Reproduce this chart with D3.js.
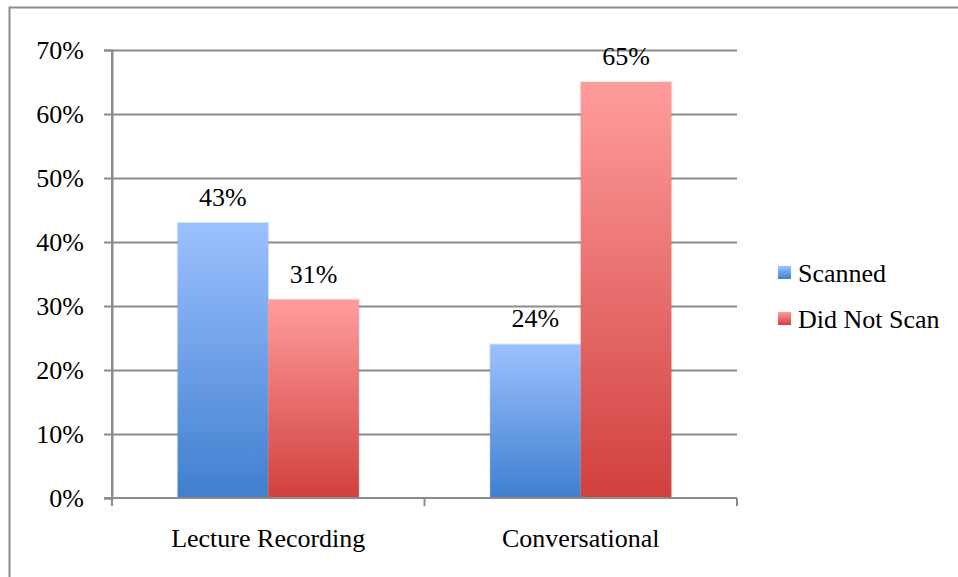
<!DOCTYPE html>
<html>
<head>
<meta charset="utf-8">
<script src="https://cdn.jsdelivr.net/npm/d3@7"></script>
</head>
<body style="margin:0">
<script>
const width = 958;
const height = 577;
const margin = { top: 50, bottom: 79, left: 112, right: 221 }
const font = "Liberation Serif";
const fontSize = 26;

const categories = ["Lecture Recording", "Conversational"];
const seriesNames = ["Scanned", "Did Not Scan"];
const scanned = [0.43, 0.24];
const didNotScan = [0.31, 0.65];
const yTicks = [0, 0.1, 0.2, 0.3, 0.4, 0.5, 0.6, 0.7];

const seriesValues = [scanned, didNotScan];
const colors = [
  { top: "#9dc1ff", bottom: "#3f7fcf" },
  { top: "#ff9d9c", bottom: "#d0403e" }
];

const svg = d3.select("body")
    .append("svg")
    .attr("width", width)
    .attr("height", height);

// outer chart border (runs off the right and bottom edges)
svg.append("rect")
    .attr("x", 9.5).attr("y", 7.5)
    .attr("width", 960).attr("height", 580)
    .attr("fill", "none")
    .attr("stroke", "#8c8c8c")
    .attr("stroke-width", 2);

const defs = svg.append("defs");
colors.forEach((c, i) => {
  const g = defs.append("linearGradient")
      .attr("id", "grad" + i)
      .attr("x1", 0).attr("y1", 0).attr("x2", 0).attr("y2", 1);
  g.append("stop").attr("offset", "0%").attr("stop-color", c.top);
  g.append("stop").attr("offset", "100%").attr("stop-color", c.bottom);
});

const x0 = d3.scaleBand()
    .domain(categories)
    .range([margin.left, width - margin.right])
    .paddingInner(0.42)
    .paddingOuter(0.21);

const x1 = d3.scaleBand()
    .domain(seriesNames)
    .range([0, x0.bandwidth()]);

const y = d3.scaleLinear()
    .domain([0, 0.7])
    .range([height - margin.bottom, margin.top]);

// gridlines
svg.append("g")
    .selectAll("line")
    .data(yTicks.slice(1))
    .join("line")
    .attr("x1", margin.left)
    .attr("x2", width - margin.right)
    .attr("y1", d => Math.round(y(d)) + 0.5)
    .attr("y2", d => Math.round(y(d)) + 0.5)
    .attr("stroke", "#8c8c8c")
    .attr("stroke-width", 2);

// y axis
const yAxis = svg.append("g")
    .attr("transform", `translate(${margin.left},0)`)
    .call(d3.axisLeft(y).tickValues(yTicks).tickFormat(d3.format(".0%")).tickSize(8).tickPadding(20));
yAxis.attr("font-family", null).attr("font-size", null);
yAxis.selectAll("path, line").attr("stroke", "#8c8c8c").attr("stroke-width", 2);
yAxis.selectAll("text")
    .style("font-family", font)
    .attr("font-size", fontSize)
    .attr("fill", "#000")
    .attr("dy", "0.34em");

// bars
const groups = svg.append("g")
    .selectAll("g")
    .data(categories)
    .join("g")
    .attr("transform", d => `translate(${x0(d)},0)`);

const barData = (d, i) => seriesNames.map((s, j) => ({ s, j, v: seriesValues[j][i] }));

// faint shadow edge around each bar
groups.selectAll("rect.shade")
    .data(barData)
    .join("rect")
    .attr("class", "shade")
    .attr("x", d => x1(d.s) - 1)
    .attr("y", d => y(d.v) - 1)
    .attr("width", x1.bandwidth() + 2)
    .attr("height", d => y(0) - y(d.v) + 1)
    .attr("fill", "#000")
    .attr("fill-opacity", 0.08);

groups.selectAll("rect.bar")
    .data(barData)
    .join("rect")
    .attr("class", "bar")
    .attr("x", d => x1(d.s))
    .attr("y", d => y(d.v))
    .attr("width", x1.bandwidth())
    .attr("height", d => y(0) - y(d.v))
    .attr("fill", d => `url(#grad${d.j})`);

groups.selectAll("text")
    .data(barData)
    .join("text")
    .attr("x", d => x1(d.s) + x1.bandwidth() / 2)
    .attr("y", d => y(d.v) - 17)
    .attr("text-anchor", "middle")
    .style("font-family", font)
    .attr("font-size", fontSize)
    .text(d => d3.format(".0%")(d.v));

// x axis
const xAxis = svg.append("g")
    .attr("transform", `translate(0,${height - margin.bottom})`);
xAxis.append("line")
    .attr("x1", margin.left - 8).attr("x2", width - margin.right)
    .attr("stroke", "#8c8c8c").attr("stroke-width", 2);
const bounds = [margin.left, (margin.left + width - margin.right) / 2, width - margin.right];
xAxis.selectAll(".tick")
    .data(bounds)
    .join("line")
    .attr("x1", d => d).attr("x2", d => d)
    .attr("y1", 0).attr("y2", 8)
    .attr("stroke", "#8c8c8c").attr("stroke-width", 2);
xAxis.selectAll("text")
    .data(categories)
    .join("text")
    .attr("x", d => x0(d) + x0.bandwidth() / 2)
    .attr("y", 49)
    .attr("text-anchor", "middle")
    .style("font-family", font)
    .attr("font-size", fontSize)
    .text(d => d);

// y axis line on top
svg.append("line")
    .attr("x1", margin.left).attr("x2", margin.left)
    .attr("y1", y(0.7)).attr("y2", y(0) + 8)
    .attr("stroke", "#8c8c8c").attr("stroke-width", 2);

// legend
const legend = svg.append("g")
    .attr("transform", "translate(778,266)");
const item = legend.selectAll("g")
    .data(seriesNames)
    .join("g")
    .attr("transform", (d, i) => `translate(0,${i * 46})`);
item.append("rect")
    .attr("width", 13).attr("height", 13)
    .attr("fill", (d, i) => `url(#grad${i})`);
item.append("text")
    .attr("x", 20).attr("y", 16)
    .style("font-family", font)
    .attr("font-size", fontSize)
    .text(d => d);
</script>
</body>
</html>
